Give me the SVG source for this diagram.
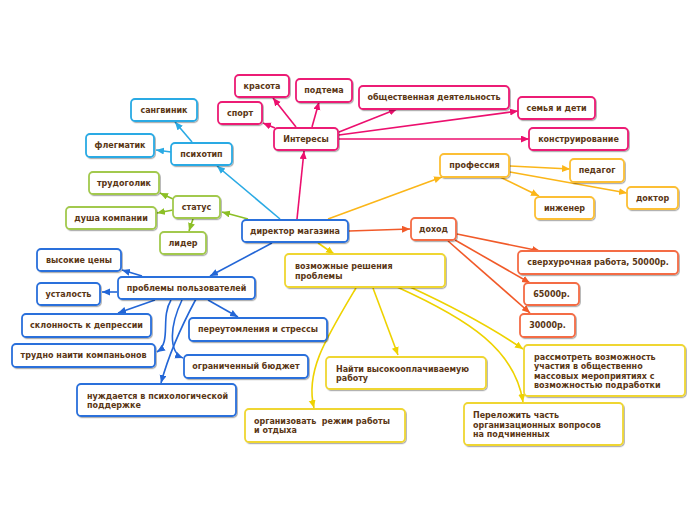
<svg xmlns="http://www.w3.org/2000/svg" width="696" height="520" viewBox="0 0 696 520">
<style>
rect{fill:#fff;stroke-width:1.8;filter:url(#sh)}
text{font-family:"DejaVu Sans",Verdana,sans-serif;font-weight:bold;font-size:8px;fill:#5a3614}
.c{text-anchor:middle}
.b rect{stroke:#2a6fdb}.lb rect{stroke:#2aaae4}.g rect{stroke:#a2c94e}.p rect{stroke:#ec1b74}
.o rect{stroke:#fcbf34}.r rect{stroke:#f46c45}.y rect{stroke:#efd631}
#conn path{fill:none;stroke-width:1.6}
.lb2{stroke:#2aaae4}.b2{stroke:#2366d6}.g2{stroke:#8cbf26}.p2{stroke:#ec0f6e}.o2{stroke:#fbb619}.r2{stroke:#f15a29}.y2{stroke:#eed200}
</style>
<defs>
<filter id="sh" x="-10%" y="-20%" width="130%" height="160%"><feDropShadow dx="1" dy="1.2" stdDeviation="0.7" flood-color="#000" flood-opacity="0.3"/></filter>
<marker id="ab" markerUnits="userSpaceOnUse" markerWidth="9" markerHeight="8" refX="8" refY="3.5" orient="auto"><path d="M0,0L8,3.5L0,7z" fill="#2366d6"/></marker>
<marker id="alb" markerUnits="userSpaceOnUse" markerWidth="9" markerHeight="8" refX="8" refY="3.5" orient="auto"><path d="M0,0L8,3.5L0,7z" fill="#2aaae4"/></marker>
<marker id="ag" markerUnits="userSpaceOnUse" markerWidth="9" markerHeight="8" refX="8" refY="3.5" orient="auto"><path d="M0,0L8,3.5L0,7z" fill="#8cbf26"/></marker>
<marker id="ap" markerUnits="userSpaceOnUse" markerWidth="9" markerHeight="8" refX="8" refY="3.5" orient="auto"><path d="M0,0L8,3.5L0,7z" fill="#ec0f6e"/></marker>
<marker id="ao" markerUnits="userSpaceOnUse" markerWidth="9" markerHeight="8" refX="8" refY="3.5" orient="auto"><path d="M0,0L8,3.5L0,7z" fill="#fbb619"/></marker>
<marker id="ar" markerUnits="userSpaceOnUse" markerWidth="9" markerHeight="8" refX="8" refY="3.5" orient="auto"><path d="M0,0L8,3.5L0,7z" fill="#f15a29"/></marker>
<marker id="ay" markerUnits="userSpaceOnUse" markerWidth="9" markerHeight="8" refX="8" refY="3.5" orient="auto"><path d="M0,0L8,3.5L0,7z" fill="#eed200"/></marker>
</defs>
<rect x="0" y="0" width="696" height="520" style="fill:#fff;stroke:none;filter:none"/>
<g id="conn">
<path class="p2" marker-end="url(#ap)" d="M297,219L304,151"/>
<path class="lb2" marker-end="url(#alb)" d="M280,219L217,166"/>
<path class="g2" marker-end="url(#ag)" d="M248,219L222,212"/>
<path class="o2" marker-end="url(#ao)" d="M328,219L442,177"/>
<path class="r2" marker-end="url(#ar)" d="M349,231L410,229"/>
<path class="y2" marker-end="url(#ay)" d="M318,243L334,254"/>
<path class="b2" marker-end="url(#ab)" d="M272,243L210,276"/>
<path class="p2" marker-end="url(#ap)" d="M296,127L273,98"/>
<path class="p2" marker-end="url(#ap)" d="M312,127L319,102"/>
<path class="p2" marker-end="url(#ap)" d="M275,128L263,123"/>
<path class="p2" marker-end="url(#ap)" d="M339,132L397,109"/>
<path class="p2" marker-end="url(#ap)" d="M339,135L518,111"/>
<path class="p2" marker-end="url(#ap)" d="M339,139L529,139"/>
<path class="lb2" marker-end="url(#alb)" d="M192,142L175,122"/>
<path class="lb2" marker-end="url(#alb)" d="M171,152L156,150"/>
<path class="g2" marker-end="url(#ag)" d="M173,199L160,193"/>
<path class="g2" marker-end="url(#ag)" d="M173,210L157,213"/>
<path class="g2" marker-end="url(#ag)" d="M193,219L189,231"/>
<path class="o2" marker-end="url(#ao)" d="M510,166L570,169"/>
<path class="o2" marker-end="url(#ao)" d="M510,172L627,193"/>
<path class="o2" marker-end="url(#ao)" d="M500,177L539,196"/>
<path class="r2" marker-end="url(#ar)" d="M457,234L540,251"/>
<path class="r2" marker-end="url(#ar)" d="M455,240L530,283"/>
<path class="r2" marker-end="url(#ar)" d="M448,241L530,313"/>
<path class="b2" marker-end="url(#ab)" d="M142,276L122,270"/>
<path class="b2" marker-end="url(#ab)" d="M117,292L102,292"/>
<path class="b2" marker-end="url(#ab)" d="M155,300L118,313"/>
<path class="b2" marker-end="url(#ab)" d="M208,300L238,317"/>
<path class="b2" marker-end="url(#ab)" d="M171,300C160,318 172,342 157,352"/>
<path class="b2" marker-end="url(#ab)" d="M182,300C170,325 168,352 183,358"/>
<path class="b2" marker-end="url(#ab)" d="M196,299C182,325 170,350 161,383"/>
<path class="y2" marker-end="url(#ay)" d="M356,288C325,340 305,372 314,408"/>
<path class="y2" marker-end="url(#ay)" d="M373,288L398,355"/>
<path class="y2" marker-end="url(#ay)" d="M397,287C470,320 515,350 523,402"/>
<path class="y2" marker-end="url(#ay)" d="M410,287C460,310 495,330 523,349"/>
</g>
<g id="n-director" class="b"><rect x="242" y="220" width="106" height="22" rx="4"/><text class="c" x="295" y="234">директор магазина</text></g>
<g id="n-problems" class="b"><rect x="118" y="277" width="137" height="22" rx="4"/><text class="c" x="186.5" y="291">проблемы пользователей</text></g>
<g id="n-prices" class="b"><rect x="37" y="249" width="84" height="22" rx="4"/><text class="c" x="79" y="263">высокие цены</text></g>
<g id="n-tired" class="b"><rect x="37" y="283" width="63" height="22" rx="4"/><text class="c" x="68.5" y="297">усталость</text></g>
<g id="n-depr" class="b"><rect x="22" y="314" width="129" height="23" rx="4"/><text class="c" x="86.5" y="328">склонность к депрессии</text></g>
<g id="n-stress" class="b"><rect x="189" y="318" width="138" height="23" rx="4"/><text class="c" x="258" y="332">переутомления и стрессы</text></g>
<g id="n-comp" class="b"><rect x="12" y="344" width="143" height="23" rx="4"/><text class="c" x="83.5" y="358">трудно наити компаньонов</text></g>
<g id="n-budget" class="b"><rect x="184" y="355" width="124" height="23" rx="4"/><text class="c" x="246" y="369">ограниченный бюджет</text></g>
<g id="n-psy" class="b"><rect x="77" y="384" width="159" height="32" rx="4"/><text x="87" y="399">нуждается в психологической</text><text x="87" y="408">поддержке</text></g>
<g id="n-psycho" class="lb"><rect x="171" y="143" width="61" height="22" rx="4"/><text class="c" x="201.5" y="157">психотип</text></g>
<g id="n-sang" class="lb"><rect x="131" y="99" width="66" height="22" rx="4"/><text class="c" x="164" y="113">сангвиник</text></g>
<g id="n-phleg" class="lb"><rect x="86" y="134" width="68" height="23" rx="4"/><text class="c" x="120" y="148">флегматик</text></g>
<g id="n-status" class="g"><rect x="173" y="196" width="47" height="22" rx="4"/><text class="c" x="196.5" y="210">статус</text></g>
<g id="n-work" class="g"><rect x="89" y="172" width="70" height="22" rx="4"/><text class="c" x="124" y="186">трудоголик</text></g>
<g id="n-soul" class="g"><rect x="66" y="207" width="90" height="22" rx="4"/><text class="c" x="111" y="221">душа компании</text></g>
<g id="n-leader" class="g"><rect x="160" y="232" width="46" height="22" rx="4"/><text class="c" x="183" y="246">лидер</text></g>
<g id="n-int" class="p"><rect x="274" y="128" width="64" height="22" rx="4"/><text class="c" x="306" y="142">Интересы</text></g>
<g id="n-beauty" class="p"><rect x="235" y="75" width="54" height="22" rx="4"/><text class="c" x="262" y="89">красота</text></g>
<g id="n-sub" class="p"><rect x="296" y="79" width="56" height="23" rx="4"/><text class="c" x="324" y="93">подтема</text></g>
<g id="n-sport" class="p"><rect x="218" y="102" width="44" height="22" rx="4"/><text class="c" x="240" y="116">спорт</text></g>
<g id="n-social" class="p"><rect x="359" y="86" width="150" height="23" rx="4"/><text class="c" x="434" y="100">общественная деятельность</text></g>
<g id="n-family" class="p"><rect x="518" y="97" width="77" height="22" rx="4"/><text class="c" x="556.5" y="111">семья и дети</text></g>
<g id="n-constr" class="p"><rect x="529" y="128" width="99" height="22" rx="4"/><text class="c" x="578.5" y="142">конструирование</text></g>
<g id="n-prof" class="o"><rect x="440" y="154" width="69" height="23" rx="4"/><text class="c" x="474.5" y="168">профессия</text></g>
<g id="n-ped" class="o"><rect x="570" y="159" width="54" height="23" rx="4"/><text class="c" x="597" y="173">педагог</text></g>
<g id="n-doc" class="o"><rect x="627" y="187" width="51" height="22" rx="4"/><text class="c" x="652.5" y="201">доктор</text></g>
<g id="n-eng" class="o"><rect x="535" y="197" width="59" height="22" rx="4"/><text class="c" x="564.5" y="211">инженер</text></g>
<g id="n-income" class="r"><rect x="411" y="218" width="45" height="22" rx="4"/><text class="c" x="433.5" y="232">доход</text></g>
<g id="n-over" class="r"><rect x="518" y="251" width="160" height="23" rx="4"/><text class="c" x="598" y="265">сверхурочная работа, 50000р.</text></g>
<g id="n-65" class="r"><rect x="524" y="283" width="55" height="22" rx="4"/><text class="c" x="551.5" y="297">65000р.</text></g>
<g id="n-30" class="r"><rect x="520" y="314" width="55" height="23" rx="4"/><text class="c" x="547.5" y="328">30000р.</text></g>
<g id="n-sol" class="y"><rect x="285" y="254" width="160" height="33" rx="4"/><text x="295" y="269">возможные решения</text><text x="295" y="279">проблемы</text></g>
<g id="n-find" class="y"><rect x="326" y="357" width="160" height="32" rx="4"/><text x="336" y="372">Найти высокооплачиваемую</text><text x="336" y="381">работу</text></g>
<g id="n-consider" class="y"><rect x="524" y="345" width="161" height="51" rx="4"/><text x="534" y="360">рассмотреть возможность</text><text x="534" y="369">участия в общественно</text><text x="534" y="378.5">массовых мероприятиях с</text><text x="534" y="388">возможностью подработки</text></g>
<g id="n-org" class="y"><rect x="245" y="409" width="160" height="33" rx="4"/><text x="254" y="424" style="white-space:pre">организовать  режим работы</text><text x="254" y="433">и отдыха</text></g>
<g id="n-deleg" class="y"><rect x="464" y="403" width="159" height="42" rx="4"/><text x="473" y="418">Переложить часть</text><text x="473" y="427.5">организационных вопросов</text><text x="473" y="437">на подчиненных</text></g>
</svg>
